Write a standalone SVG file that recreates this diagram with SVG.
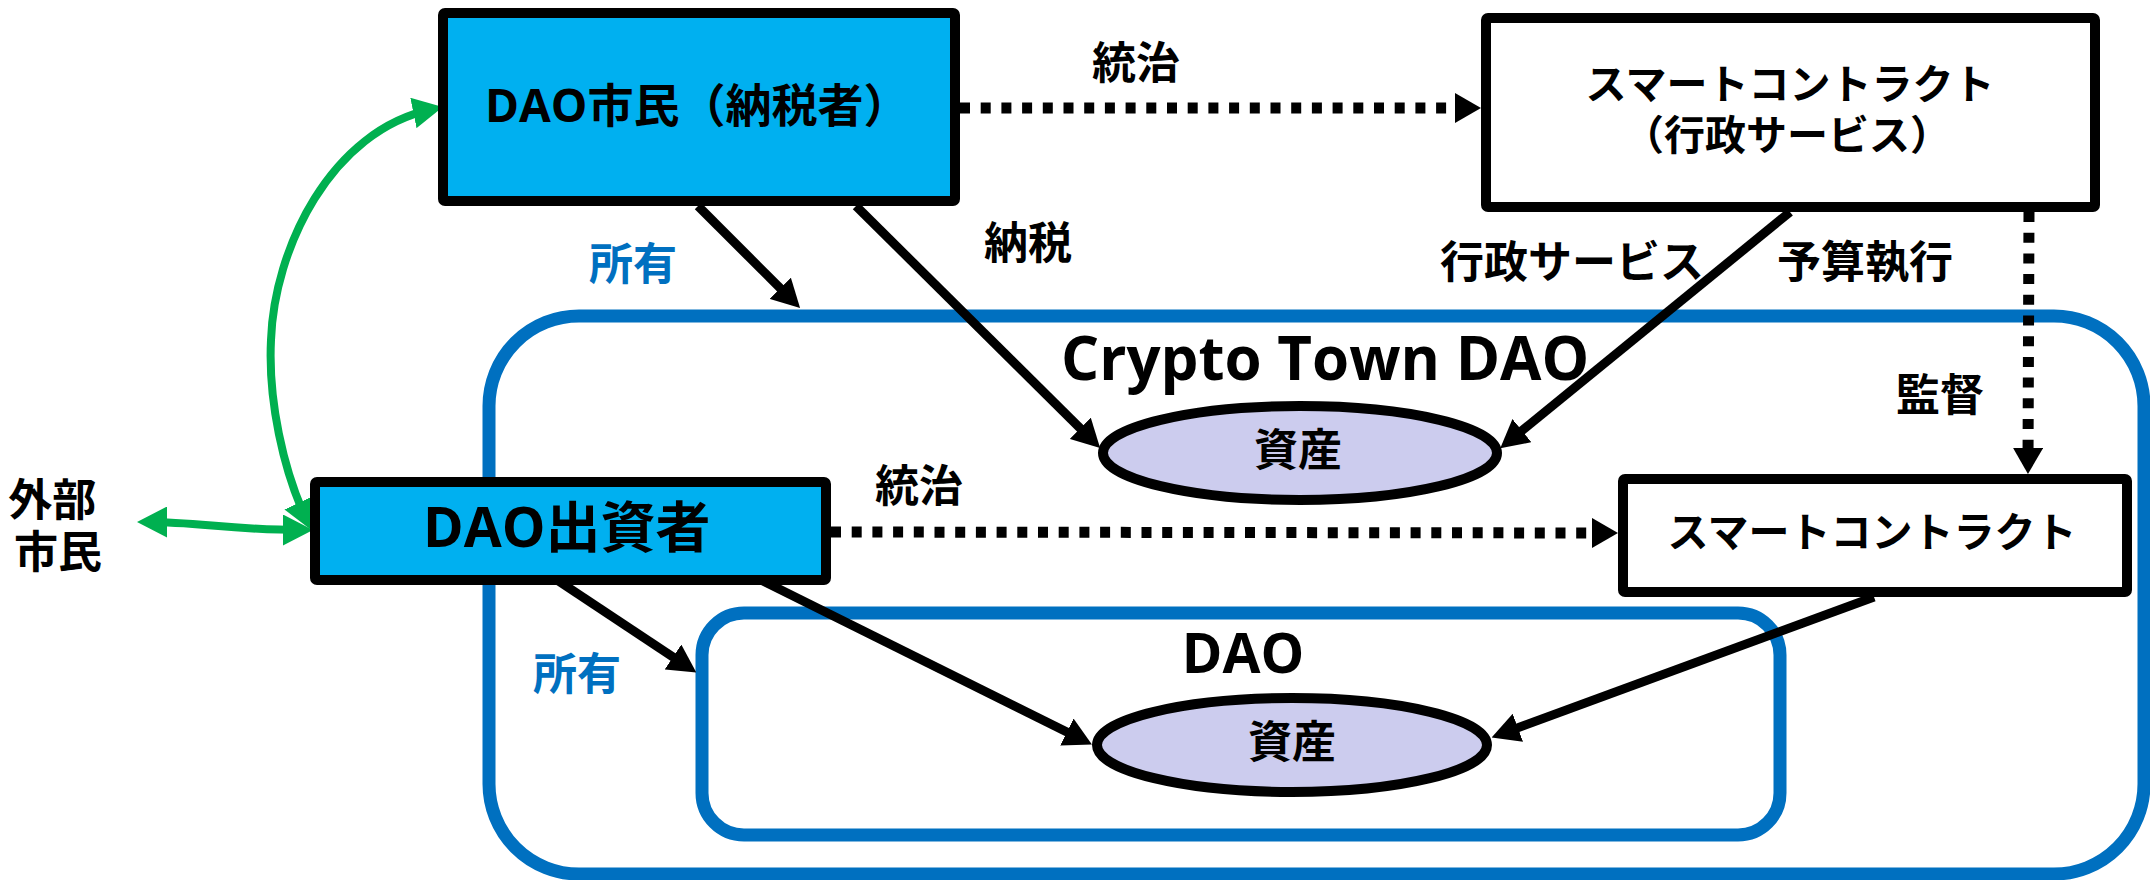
<svg xmlns="http://www.w3.org/2000/svg" width="2150" height="880" viewBox="0 0 2150 880">
  <defs>
    <style>
      .t { font-family: 'Open Sans', 'Noto Sans CJK JP', sans-serif; font-weight: 700; fill: #000; }
      .c { text-anchor: middle; dominant-baseline: central; }
      .blue { fill: #0070C0; }
      .box { stroke: #000; stroke-width: 10; }
      .actor { fill: #00B0F0; }
      .contract { fill: #fff; }
      .asset { fill: #CCCCEE; stroke: #000; stroke-width: 10; }
      .frame { fill: none; stroke: #0070C0; stroke-width: 13; }
      .flow { fill: none; stroke: #000; stroke-width: 9; marker-end: url(#arr); }
      .gov { fill: none; stroke: #000; stroke-width: 11; stroke-dasharray: 10 10.7; marker-end: url(#arrd); }
      .link { fill: none; stroke: #00B050; stroke-width: 8; marker-start: url(#garr); marker-end: url(#garr); }
    </style>
    <marker id="arr" markerUnits="userSpaceOnUse" markerWidth="28" markerHeight="30" refX="18" refY="15" orient="auto">
      <path d="M0,0 L28,15 L0,30 z" fill="#000"/>
    </marker>
    <marker id="arrd" markerUnits="userSpaceOnUse" markerWidth="26" markerHeight="30" refX="16" refY="15" orient="auto">
      <path d="M0,0 L26,15 L0,30 z" fill="#000"/>
    </marker>
    <marker id="garr" markerUnits="userSpaceOnUse" markerWidth="30" markerHeight="31" refX="20" refY="15.5" orient="auto-start-reverse">
      <path d="M0,0 L30,15.5 L0,31 z" fill="#00B050"/>
    </marker>
  </defs>

  <rect width="2150" height="880" fill="#fff"/>

  <!-- ownership frames -->
  <g id="crypto-town-dao">
    <rect class="frame" x="489" y="316" width="1655" height="558" rx="90" ry="90"/>
    <text class="t" x="1061" y="380" font-size="60">Crypto Town DAO</text>
  </g>
  <g id="dao">
    <rect class="frame" x="702" y="613" width="1078" height="222" rx="42" ry="42"/>
    <text class="t" x="1243" y="673" font-size="55" text-anchor="middle">DAO</text>
  </g>

  <!-- connectors -->
  <g id="connectors">
    <path class="flow" d="M698,206 L793,301"/>
    <path class="flow" d="M856,206 L1093,441"/>
    <path class="flow" d="M1790,212 L1508,442"/>
    <path class="flow" d="M757,578 L1083,740"/>
    <path class="flow" d="M554,578 L688,667"/>
    <path class="flow" d="M1874,597 L1501,734"/>
    <path class="gov" d="M960,108 L1471,108"/>
    <path class="gov" d="M831,532 L1608,533"/>
    <path class="gov" d="M2029,212 L2028,464"/>
    <path class="link" d="M307,521 C283,470 268,400 271,340 C274,250 330,130 433,109"/>
    <path class="link" d="M147,522 C200,522 230,530 303,530"/>
    <text class="t c blue" x="633" y="263" font-size="44">所有</text>
    <text class="t c" x="1028" y="242" font-size="44">納税</text>
    <text class="t c" x="1136" y="62" font-size="44">統治</text>
    <text class="t c" x="1572" y="261" font-size="44">行政サービス</text>
    <text class="t c" x="1865" y="261" font-size="44">予算執行</text>
    <text class="t c" x="1940" y="394" font-size="44">監督</text>
    <text class="t c" x="919" y="485" font-size="44">統治</text>
    <text class="t c blue" x="577" y="673" font-size="44">所有</text>
  </g>

  <!-- nodes -->
  <g id="dao-citizen">
    <rect class="box actor" x="443" y="13" width="512" height="188" rx="2"/>
    <text class="t" x="485" y="104" font-size="46" dominant-baseline="central">DAO市民（納税者）</text>
  </g>
  <g id="smart-contract-admin">
    <rect class="box contract" x="1486" y="18" width="609" height="189" rx="2"/>
    <text class="t c" x="1790" y="83" font-size="41">スマートコントラクト</text>
    <text class="t c" x="1787" y="134" font-size="41">（行政サービス）</text>
  </g>
  <g id="asset-town">
    <ellipse class="asset" cx="1300" cy="453" rx="197" ry="47"/>
    <text class="t c" x="1298" y="449" font-size="44">資産</text>
  </g>
  <g id="dao-investor">
    <rect class="box actor" x="315" y="482" width="511" height="98" rx="2"/>
    <text class="t" x="423" y="525" font-size="55" dominant-baseline="central">DAO出資者</text>
  </g>
  <g id="smart-contract">
    <rect class="box contract" x="1623" y="479" width="504" height="113" rx="2"/>
    <text class="t c" x="1872" y="531" font-size="41">スマートコントラクト</text>
  </g>
  <g id="asset-dao">
    <ellipse class="asset" cx="1292" cy="745" rx="195" ry="47"/>
    <text class="t c" x="1292" y="741" font-size="44">資産</text>
  </g>
  <g id="external-citizen">
    <text class="t" font-size="44" text-anchor="middle">
      <tspan x="58" y="516">外部</tspan>
      <tspan x="58" y="568">市民</tspan>
    </text>
  </g>
</svg>
